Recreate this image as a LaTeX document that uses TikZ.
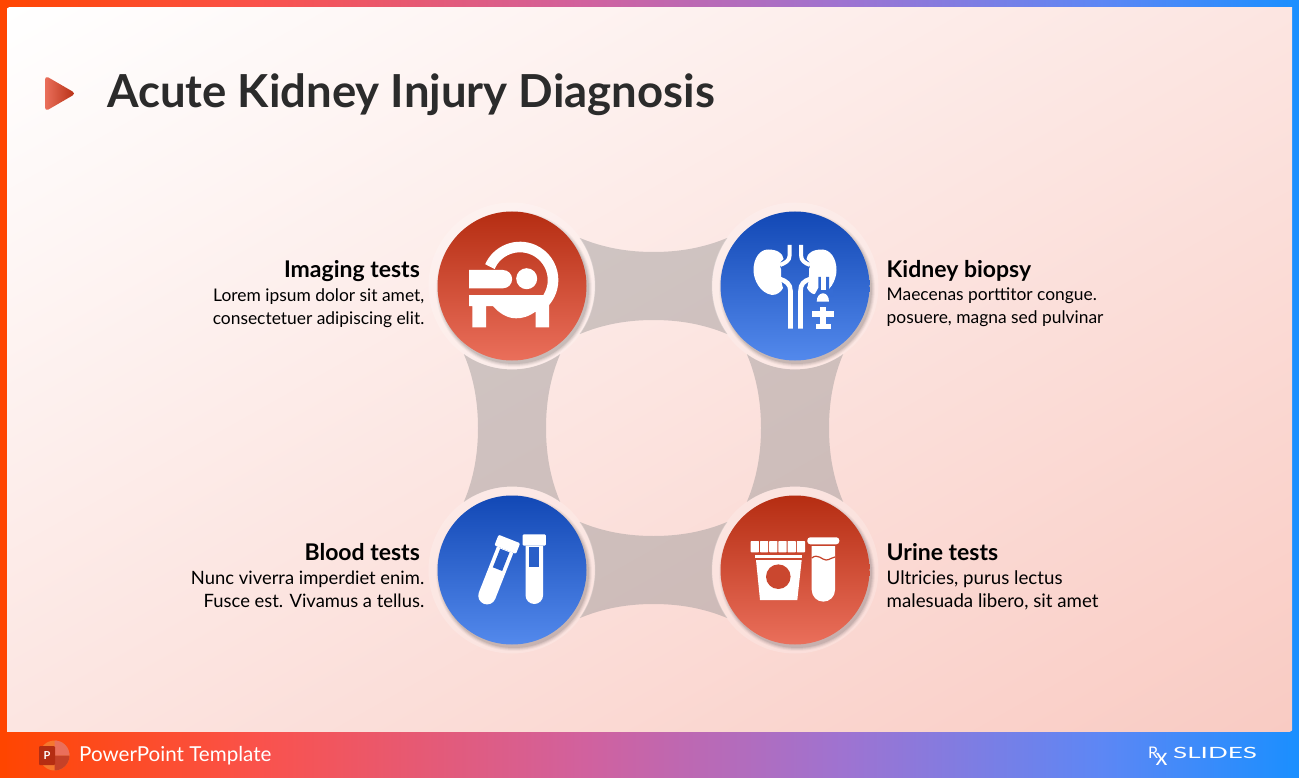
\documentclass[tikz,border=0pt]{standalone}
\usepackage{fontspec}
\setmainfont{Lato}
\usetikzlibrary{calc}
\definecolor{redT}{HTML}{B52D12}
\definecolor{redB}{HTML}{EA6F5B}
\definecolor{bluT}{HTML}{1248B5}
\definecolor{bluB}{HTML}{5389EC}
\definecolor{inkc}{HTML}{2B2B2B}
\definecolor{bgA}{HTML}{FFFFFF}
\definecolor{bgM}{HTML}{FEE9E5}
\definecolor{bgB}{HTML}{F9CBC3}
\definecolor{linkc}{RGB}{150,148,148}
\definecolor{barA}{RGB}{255,69,0}
\definecolor{barB}{RGB}{250,82,76}
\definecolor{barC}{RGB}{209,97,158}
\definecolor{barD}{RGB}{158,115,209}
\definecolor{barE}{RGB}{92,135,245}
\definecolor{barF}{RGB}{26,143,255}
\pgfdeclarehorizontalshading{barshade}{100bp}{
 color(0bp)=(barA);
 color(25bp)=(barA);
 color(35bp)=(barB);
 color(47.5bp)=(barC);
 color(57.5bp)=(barD);
 color(67.5bp)=(barE);
 color(75bp)=(barF);
 color(100bp)=(barF)}
\tikzset{
 disc/.style={circle,minimum size=149pt,inner sep=0pt,draw=none},
 redd/.style={disc,top color=redT,bottom color=redB},
 blud/.style={disc,top color=bluT,bottom color=bluB},
 hd/.style={font=\fontsize{23}{26}\selectfont\bfseries,text=black,inner sep=0pt},
 bodyt/.style={font=\fontsize{17.4}{23}\selectfont,text=black,inner sep=0pt},
 bodyb/.style={font=\fontsize{18.4}{23}\selectfont,text=black,inner sep=0pt},
 bodyu/.style={font=\fontsize{18.7}{23}\selectfont,text=black,inner sep=0pt},
 hdL/.style={hd,anchor=base east},hdR/.style={hd,anchor=base west},
 linkp/.style={fill=linkc,fill opacity=.44,draw=none},
 ico/.style={fill=white,draw=none},
}
\newcommand{\lnk}[3]{%
 \begin{scope}[shift={(#1,#2)},rotate=#3]
 \path[linkp] (-74,-48.2) .. controls (-50,-38) and (-25,-34) .. (0,-34)
  .. controls (25,-34) and (50,-38) .. (74,-48.2)
  arc[start angle=215.5,end angle=144.5,radius=83]
  .. controls (50,38) and (25,34) .. (0,34)
  .. controls (-25,34) and (-50,38) .. (-74,48.2)
  arc[start angle=35.5,end angle=-35.5,radius=83] -- cycle;
 \end{scope}}
\newcommand{\halo}[2]{%
 \fill[white,opacity=.2] (#1,#2) circle[radius=83.5];
 \foreach \r/\o in {78/.03,77/.05,76/.06,75/.08}{\fill[black,opacity=\o] (#1+2,#2+3) circle[radius=\r];}}
\newcommand{\tube}[1]{%
 \path[ico] (-11.6,-5.7) [rounded corners=1.2] -- (11.6,-5.7) -- (11.6,5.7) -- (-11.6,5.7) -- cycle;
 \path[ico] (-8.8,5.7) -- (8.8,5.7) -- (8.8,55.2) arc[start angle=0,end angle=180,radius=8.8] -- cycle;
 \path[fill=#1] (-5,6.7) rectangle (5,26.7);}
\begin{document}
\begin{tikzpicture}[x=1pt,y=1pt,yscale=-1]
\useasboundingbox (0,0) rectangle (1299,778);
% page
\path[shading=barshade] (0,0) rectangle (1299,778);
\fill[barA] (0,0) rectangle (7,778);
\fill[barF] (1292,8) rectangle (1299,731);
\begin{scope}
\clip (7,8) rectangle (1292,731);
\begin{scope}[transform canvas={shift={(649.5pt,-369.5pt)},rotate=-60.6}]
\path[shade,left color=bgA,middle color=bgM,right color=bgB] (-630,-900) rectangle (630,900);
\end{scope}
\end{scope}
% connectors
\lnk{653.5}{286}{0}
\lnk{653.5}{570}{0}
\lnk{512}{428}{90}
\lnk{795}{428}{90}
% halos
\halo{512}{286}\halo{795}{286}\halo{512}{570}\halo{795}{570}
% discs
\node[redd] (imaging) at (512,286) {};
\node[blud] (kidney) at (795,286) {};
\node[blud] (blood) at (512,570) {};
\node[redd] (urine) at (795,570) {};
% MRI icon
\draw[white,line width=10.6pt] (489.9,266.6) arc[start angle=204,end angle=405,radius=33];
\path[ico,rounded corners=0] (469,270) -- (503,270) arc[start angle=-90,end angle=90,radius=9.15] -- (469,288.3) -- cycle;
\path[ico] (526.7,278.7) circle[radius=10.5];
\path[ico] (469,295) -- (549,295) -- (549,327.3) -- (535.7,327.3) -- (535.7,311.5) .. controls (528,317) and (522,318.3) .. (516,318.3) .. controls (507,318.3) and (499,313) .. (493,306) -- (486,306) -- (486,327.3) -- (472.3,327.3) -- (472.3,306) -- (469,306) -- cycle;
% kidney icon
\path[ico] (768,249.5) .. controls (777,249.5) and (783,253) .. (783.5,259) .. controls (779,263) and (779,265) .. (781,269) -- (781,275) .. controls (781,281) and (782,285) .. (783,288) .. controls (781,292) and (777,295) .. (772,295) .. controls (760,293) and (753.5,280) .. (753.5,270) .. controls (753.5,258) and (760,249.5) .. (768,249.5) -- cycle;
\path[ico] (822,249.5) .. controls (813,249.5) and (807,253) .. (806.5,259) .. controls (811,263) and (811,265) .. (809,269) -- (809,275) .. controls (809,281) and (808,285) .. (807,288) .. controls (809,292) and (813,295) .. (818,295) .. controls (830,293) and (836.5,280) .. (836.5,270) .. controls (836.5,258) and (830,249.5) .. (822,249.5) -- cycle;
\draw[white,line width=4pt] (789.7,245) -- (789.7,255) .. controls (789.7,261) and (785,263) .. (780,265);
\draw[white,line width=4pt] (801,245) -- (801,255) .. controls (801,261) and (805,263) .. (810,265);
\draw[white,line width=4.6pt] (780,279) .. controls (786,281) and (790.5,284) .. (790.5,291) -- (790.5,328.5);
\draw[white,line width=4.6pt] (810,279) .. controls (804,281) and (800.5,284) .. (800.5,291) -- (800.5,328.5);
\path[fill=bluT!44!bluB] (818.3,277) -- (829,277) -- (829,289) -- (833,289) -- (833,296) -- (810,296) -- (815,294) -- (818.3,288) -- cycle;
\path[ico] (821,276) rectangle (825.7,290);
\path[ico] (816.7,301.7) .. controls (816.7,296) and (820,293.3) .. (823,293.3) .. controls (826,293.3) and (829,296) .. (829,301.7) -- cycle;
\path[ico] (820.3,306.7) rectangle (826,328);
\path[ico] (812.3,311) rectangle (834.3,316.7);
\path[ico] (815.7,324.3) rectangle (831,329);
% tubes
\begin{scope}[shift={(534.3,540)}]\tube{bluT!65!bluB}\end{scope}
\begin{scope}[shift={(507.3,544.3)},rotate=21.5]\tube{bluT!65!bluB}\end{scope}
% urine icon
\foreach \x in {750.7,760,769.2,778.4,787.6,796.8}{\path[ico,rounded corners=.6] (\x,541) rectangle (\x+8.2,552.3);}
\path[ico] (755,555) rectangle (801.7,558.3);
\path[ico] (756,560) -- (801.7,560) -- (797.3,600) -- (760,600) -- cycle;
\path[fill=redT!60!redB] (778.3,576.7) circle[radius=12.3];
\path[ico,rounded corners=3] (807.3,537.3) rectangle (839.3,544.3);
\path[ico] (811.7,546) -- (835,546) -- (835,590) arc[start angle=0,end angle=180,radius=11.65] -- cycle;
\draw[redT!70!redB,line width=1.2pt] (811.7,558) .. controls (818,553) and (822,560) .. (826,560) .. controls (830,560) and (832,557) .. (835,557);
% text
\node[hdL] (t1) at (420,277) {Imaging tests};
\node[bodyt,anchor=north east,align=right] (b1) at (424.5,288) {Lorem ipsum dolor sit amet,\\consectetuer adipiscing elit.};
\node[hdL] (t3) at (420,560.5) {Blood tests};
\node[bodyb,anchor=north east,align=right] (b3) at (424.5,571) {Nunc viverra imperdiet enim.\\Fusce est. Vivamus a tellus.};
\node[hdR] (t2) at (886.5,277) {Kidney biopsy};
\node[bodyt,anchor=north west,align=left] (b2) at (886.5,288) {Maecenas porttitor congue.\\posuere, magna sed pulvinar};
\node[hdR] (t4) at (886.5,560.5) {Urine tests};
\node[bodyu,anchor=north west,align=left] (b4) at (886.5,571) {Ultricies, purus lectus\\malesuada libero, sit amet};
% title
\path[shade,left color=redB,right color=redT,rounded corners=4] (45,94) -- (45,75.5) -- (76,93.5) -- (45,111.5) -- cycle;
\node[anchor=west,inner sep=0pt,text=inkc,font=\fontsize{45.5}{50}\selectfont\bfseries] (title) at (107,94.5) {Acute Kidney Injury Diagnosis};
% footer
\fill[redB!50!orange] (54.5,755.5) circle[radius=15];
\fill[redB] (54.5,755.5) -- (54.5,740.5) arc[start angle=-90,end angle=0,radius=15] -- cycle;
\fill[redT!70!redB] (54.5,755.5) -- (69.5,755.5) arc[start angle=0,end angle=90,radius=15] -- (54.5,755.5) -- cycle;
\path[fill=redT,rounded corners=1] (39,746) rectangle (55,765);
\node[inner sep=0pt,text=white,font=\fontsize{11}{12}\selectfont\bfseries] (plogo) at (47,755.5) {P};
\node[anchor=west,inner sep=0pt,text=white,font=\fontsize{20.6}{24}\selectfont] (foot) at (79,756) {PowerPoint Template};
\node[anchor=west,inner sep=0pt,text=white,font=\fontsize{16}{18}\selectfont] (rx) at (1148,752.5) {R};
\node[inner sep=0pt,text=white,font=\fontsize{24}{24}\selectfont] (rxb) at (1161.5,759.5) {x};
\node[anchor=west,inner sep=0pt,text=white,font=\fontsize{15.5}{18}\selectfont] (brand) at (1173,752.5) {\scalebox{1.68}[1]{SLIDES}};
\end{tikzpicture}
\end{document}
